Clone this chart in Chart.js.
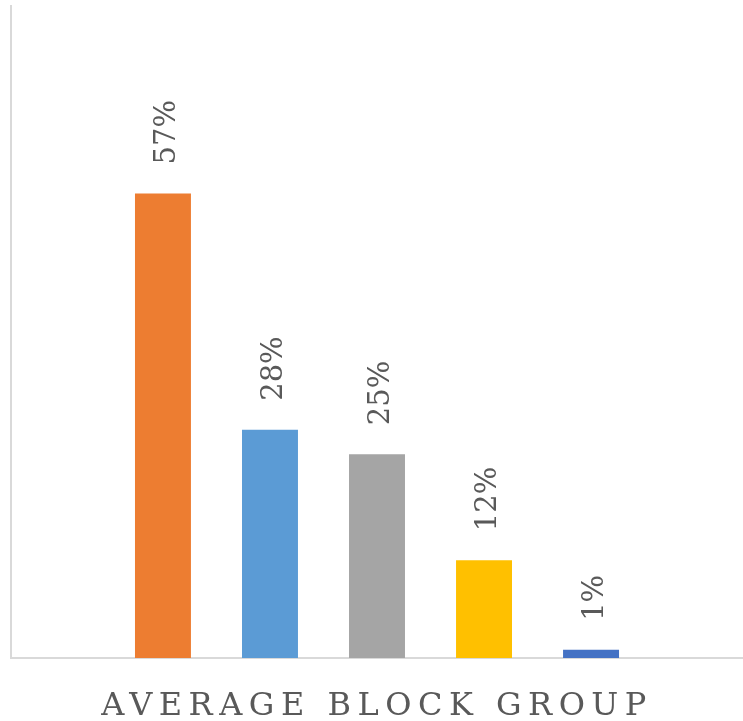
<!DOCTYPE html>
<html>
<head>
<meta charset="utf-8">
<style>
  html, body { margin: 0; padding: 0; background: #ffffff; }
  #wrap { width: 743px; height: 721px; position: relative; }
</style>
<script src="https://cdn.jsdelivr.net/npm/chart.js@4.4.1/dist/chart.umd.min.js"></script>
</head>
<body>
<div id="wrap"><canvas id="chart"></canvas></div>
<script>
// Share of block groups, one bar per series
const categories = ['AVERAGE BLOCK GROUP'];
const seriesNames = ['Series 1', 'Series 2', 'Series 3', 'Series 4', 'Series 5'];
const seriesValues = [57, 28, 25, 12, 1];
const seriesColors = ['#ED7D31', '#5B9BD5', '#A5A5A5', '#FFC000', '#4472C4'];

const SERIF = '"DejaVu Serif", "Liberation Serif", serif';
const TEXT_GREY = '#595959';
const AXIS_GREY = '#d9d9d9';

// Spaced-out capitals for the category label on the x axis
const letterSpacingPlugin = {
  id: 'letterSpacing',
  beforeDraw(chart) { chart.ctx.letterSpacing = '6.5px'; },
  afterDraw(chart) { chart.ctx.letterSpacing = '0px'; }
};

// Rotated percentage labels above each bar
const valueLabels = {
  id: 'valueLabels',
  afterDatasetsDraw(chart) {
    const ctx = chart.ctx;
    chart.data.datasets.forEach((ds, i) => {
      const meta = chart.getDatasetMeta(i);
      meta.data.forEach((bar, j) => {
        const v = ds.data[j];
        ctx.save();
        ctx.letterSpacing = '0px';
        ctx.font = '29px ' + SERIF;
        ctx.fillStyle = TEXT_GREY;
        ctx.textAlign = 'left';
        ctx.textBaseline = 'alphabetic';
        ctx.translate(bar.x + 12, bar.y - 29);
        ctx.rotate(-Math.PI / 2);
        ctx.fillText(v + '%', 0, 0);
        ctx.restore();
      });
    });
  }
};

new Chart(document.getElementById('chart'), {
  type: 'bar',
  data: {
    labels: categories,
    datasets: seriesValues.map((v, i) => ({
      label: seriesNames[i],
      data: [v],
      backgroundColor: seriesColors[i],
      borderWidth: 0,
      categoryPercentage: 0.731,
      barPercentage: 0.523
    }))
  },
  options: {
    responsive: true,
    maintainAspectRatio: false,
    animation: false,
    layout: { padding: { left: 11, right: 0, top: 6, bottom: 2 } },
    plugins: {
      legend: { display: false },
      tooltip: { enabled: false }
    },
    scales: {
      x: {
        grid: { display: false, drawTicks: false },
        border: { display: true, color: AXIS_GREY, width: 2 },
        ticks: {
          color: TEXT_GREY,
          font: { family: SERIF, size: 32 },
          padding: 29,
          maxRotation: 0
        },
        afterFit(scale) { scale.height = 61; }
      },
      y: {
        min: 0,
        max: 80,
        grid: { display: false, drawTicks: false },
        border: { display: true, color: AXIS_GREY, width: 2 },
        ticks: { display: false }
      }
    }
  },
  plugins: [letterSpacingPlugin, valueLabels]
});
</script>
</body>
</html>
